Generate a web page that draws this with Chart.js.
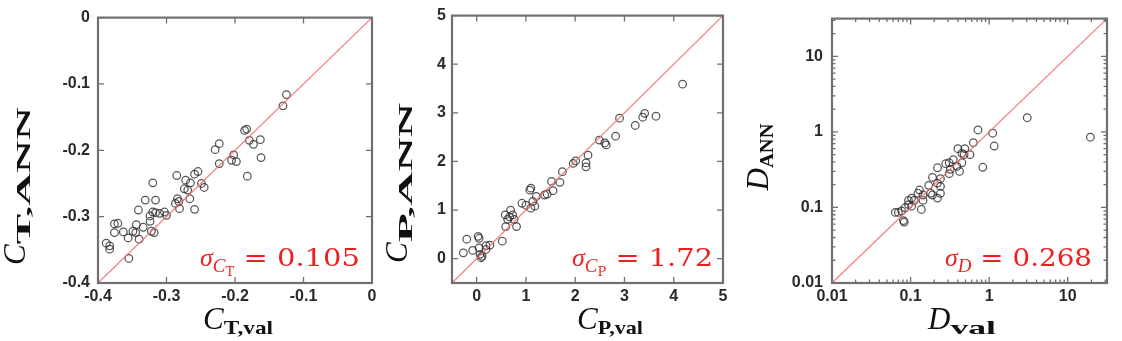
<!DOCTYPE html>
<html>
<head>
<meta charset="utf-8">
<script src="https://cdn.jsdelivr.net/npm/chart.js@4.4.1/dist/chart.umd.min.js"></script>
<style>
  html, body { margin: 0; padding: 0; background: #fff; }
  #wrap { position: relative; width: 1122px; height: 341px; overflow: hidden; }
  canvas { position: absolute; top: 0; }
</style>
</head>
<body>
<div id="wrap">
  <canvas id="ct" width="390" height="341" style="left:0px"></canvas>
  <canvas id="cp" width="370" height="341" style="left:380px"></canvas>
  <canvas id="dd" width="382" height="341" style="left:740px"></canvas>
</div>
<script>
// thrust coefficient: validation vs ANN
const ctVal = [-0.125, -0.130, -0.186, -0.183, -0.163, -0.179, -0.173, -0.223, -0.229, -0.202,
  -0.205, -0.198, -0.162, -0.223, -0.182, -0.285, -0.254, -0.259, -0.272, -0.265,
  -0.249, -0.245, -0.320, -0.274, -0.269, -0.266, -0.284, -0.287, -0.282, -0.281,
  -0.259, -0.331, -0.316, -0.341, -0.320, -0.316, -0.303, -0.300, -0.310, -0.324,
  -0.324, -0.344, -0.376, -0.371, -0.334, -0.376, -0.363, -0.349, -0.345, -0.322,
  -0.318, -0.356, -0.340, -0.388, -0.383, -0.383, -0.355];
const ctAnn = [-0.116, -0.133, -0.170, -0.168, -0.184, -0.185, -0.191, -0.190, -0.199, -0.207,
  -0.215, -0.217, -0.211, -0.220, -0.239, -0.238, -0.232, -0.236, -0.245, -0.249,
  -0.250, -0.256, -0.249, -0.258, -0.260, -0.273, -0.273, -0.280, -0.277, -0.288,
  -0.289, -0.275, -0.275, -0.290, -0.293, -0.294, -0.293, -0.298, -0.295, -0.299,
  -0.307, -0.312, -0.311, -0.310, -0.316, -0.324, -0.323, -0.322, -0.324, -0.322,
  -0.324, -0.332, -0.334, -0.340, -0.344, -0.349, -0.363];

// power coefficient
const cpVal = [4.18, 3.64, 3.41, 3.37, 3.22, 2.90, 2.82, 2.49, 2.60, 2.63,
  2.26, 2.22, 2.22, 2.01, 1.96, 1.74, 1.69, 1.52, 1.55, 1.38,
  1.43, 1.21, 1.08, 1.10, 1.14, 1.18, 1.00, 1.10, 0.92, 0.69,
  0.58, 0.67, 0.73, 0.63, 0.76, 0.59, 0.81, 0.52, 0.19, 0.27,
  0.03, 0.05, -0.20, -0.08, -0.27, 0.05, 0.07, 0.11, 0.09, 0.19];
const cpAnn = [3.59, 2.93, 2.99, 2.91, 2.74, 2.89, 2.52, 2.44, 2.38, 2.34,
  2.13, 1.97, 1.89, 2.01, 1.96, 1.79, 1.57, 1.59, 1.40, 1.31,
  1.33, 1.28, 1.41, 1.45, 1.18, 1.08, 1.10, 1.04, 1.14, 1.00,
  0.90, 0.86, 0.90, 0.81, 0.81, 0.66, 0.66, 0.36, 0.27, 0.28,
  0.46, 0.42, 0.40, 0.17, 0.12, 0.22, 0.09, 0.05, 0.02, 0.19];

// D (log scale)
const dVal = [0.72, 1.11, 1.16, 0.83, 0.63, 0.40, 0.49, 0.45, 0.48, 0.57,
  0.35, 0.31, 0.39, 0.45, 0.32, 0.42, 0.28, 0.22, 0.31, 0.24,
  0.19, 0.22, 0.24, 0.17, 0.18, 0.22, 0.24, 0.19, 0.13, 0.144,
  0.124, 0.103, 0.094, 0.111, 0.144, 0.094, 0.103, 0.085, 0.137, 0.070,
  0.077, 0.064, 0.081, 0.083, 3.05, 19.4];
const dAnn = [1.06, 0.96, 0.65, 0.34, 0.72, 0.60, 0.60, 0.52, 0.50, 0.50,
  0.43, 0.39, 0.35, 0.39, 0.32, 0.30, 0.38, 0.335, 0.28, 0.24,
  0.25, 0.21, 0.19, 0.196, 0.154, 0.133, 0.154, 0.146, 0.17, 0.146,
  0.154, 0.133, 0.124, 0.124, 0.124, 0.109, 0.104, 0.099, 0.094, 0.086,
  0.090, 0.086, 0.067, 0.064, 1.54, 0.85];

const ctTicks = [-0.4, -0.3, -0.2, -0.1, 0];
const ctTickLabels = ['-0.4', '-0.3', '-0.2', '-0.1', '0'];
const cpTicks = [0, 1, 2, 3, 4, 5];
const cpTickLabels = ['0', '1', '2', '3', '4', '5'];
const dTicks = [0.01, 0.1, 1, 10];
const dTickLabels = ['0.01', '0.1', '1', '10'];

const ctRange = [-0.4, 0];
const cpRange = [-0.5, 5];
const dRange = [0.01, 31.6];

const RED = '#f01e1e';
const TICK_FONT = { family: '"Liberation Sans", Arial, sans-serif', size: 16, weight: 'bold' };

const toPoints = (xs, ys) => xs.map((x, i) => ({ x: x, y: ys[i] }));

// draw a run of text pieces; only pieces marked stretch get squeezed/widened to hit targetW
const drawParts = (ctx, parts, x, y, align, targetW) => {
    let fixedW = 0, strW = 0;
    parts.forEach(p => {
        ctx.font = p.f;
        const w = ctx.measureText(p.t).width;
        if (p.stretch) strW += w; else fixedW += w;
    });
    const sx = targetW && strW ? (targetW - fixedW) / strW : 1;
    const total = fixedW + strW * sx;
    let cx = x + (align === 'right' ? -total : align === 'center' ? -total / 2 : 0);
    parts.forEach(p => {
        ctx.font = p.f;
        const w = ctx.measureText(p.t).width;
        const s = p.stretch ? sx : 1;
        ctx.save();
        ctx.translate(cx, y + (p.dy || 0));
        ctx.scale(s, 1);
        ctx.fillText(p.t, 0, 0);
        ctx.restore();
        cx += w * s;
    });
};

const serif = '"DejaVu Serif", "Liberation Serif", serif';
const serif2 = '"Liberation Serif", serif';

const framePlugin = {
    id: 'frame',
    afterDatasetsDraw(chart, args, opts) {
        const ctx = chart.ctx;
        const a = chart.chartArea;
        const xs = chart.scales.x, ys = chart.scales.y;
        ctx.save();
        ctx.strokeStyle = '#6e6e6e';
        ctx.lineWidth = 1.3;
        ctx.beginPath();
        const major = 6, minor = 3.5;
        const tickX = (v, len) => {
            const px = xs.getPixelForValue(v);
            ctx.moveTo(px, a.bottom); ctx.lineTo(px, a.bottom - len);
            ctx.moveTo(px, a.top); ctx.lineTo(px, a.top + len);
        };
        const tickY = (v, len) => {
            const py = ys.getPixelForValue(v);
            ctx.moveTo(a.left, py); ctx.lineTo(a.left + len, py);
            ctx.moveTo(a.right, py); ctx.lineTo(a.right - len, py);
        };
        opts.ticks.forEach(v => { tickX(v, major); tickY(v, major); });
        if (opts.log) {
            opts.ticks.forEach(v => {
                for (let k = 2; k <= 9; k++) {
                    const m = v * k;
                    if (m <= opts.range[1]) { tickX(m, minor); tickY(m, minor); }
                }
            });
        }
        ctx.stroke();
        ctx.lineWidth = 2.2;
        ctx.strokeStyle = '#707070';
        ctx.strokeRect(a.left, a.top, a.right - a.left, a.bottom - a.top);
        ctx.restore();
    },
    afterDraw(chart, args, opts) {
        const ctx = chart.ctx;
        ctx.save();
        ctx.textBaseline = 'alphabetic';
        ctx.fillStyle = '#111';
        ctx.save();
        ctx.translate(opts.yTitle.x, opts.yTitle.y);
        ctx.rotate(-Math.PI / 2);
        drawParts(ctx, opts.yTitle.parts, 0, 0, 'center', opts.yTitle.len);
        ctx.restore();
        drawParts(ctx, opts.xTitle.parts, opts.xTitle.x, opts.xTitle.y, 'center', opts.xTitle.len);
        ctx.fillStyle = RED;
        drawParts(ctx, opts.sigma.parts, opts.sigma.x, opts.sigma.y, 'right', opts.sigma.len);
        ctx.restore();
    }
};

const italicC = (t) => ({ t: t, f: 'italic 31px ' + serif2 });
const sub = (t) => ({ t: t, f: 'bold 19px ' + serif2, dy: 5, stretch: true });
const sigmaParts = (s1, s2, value) => {
    const parts = [
        { t: 'σ', f: 'italic 26px ' + serif2 },
        { t: s1, f: 'italic 19px ' + serif2, dy: 6 }
    ];
    if (s2) parts.push({ t: s2, f: '13px ' + serif, dy: 10 });
    parts.push({ t: ' = ' + value, f: '25px ' + serif, stretch: true });
    return parts;
};

const makePanel = (id, cfg) => {
    const xType = cfg.log ? 'logarithmic' : 'linear';
    return new Chart(document.getElementById(id).getContext('2d'), {
        type: 'scatter',
        data: {
            datasets: [
                {
                    type: 'line',
                    data: toPoints(cfg.range, cfg.range),
                    borderColor: 'rgba(238, 110, 110, 0.85)',
                    borderWidth: 1.3,
                    pointRadius: 0,
                    fill: false
                },
                {
                    data: toPoints(cfg.xs, cfg.ys),
                    pointRadius: 3.8,
                    pointHoverRadius: 3.8,
                    backgroundColor: 'rgba(0,0,0,0)',
                    borderColor: 'rgba(45, 45, 45, 0.8)',
                    borderWidth: 1.25
                }
            ]
        },
        options: {
            responsive: false,
            animation: false,
            devicePixelRatio: 1,
            layout: { padding: { left: 0, right: cfg.padR, top: 10, bottom: 0 } },
            plugins: {
                legend: { display: false },
                tooltip: { enabled: false },
                frame: {
                    ticks: cfg.ticks, log: cfg.log, range: cfg.range,
                    yTitle: cfg.yTitle, xTitle: cfg.xTitle, sigma: cfg.sigma
                }
            },
            scales: {
                x: {
                    type: xType,
                    min: cfg.range[0], max: cfg.range[1],
                    grid: { display: false, drawTicks: false },
                    border: { display: false },
                    afterBuildTicks: s => { s.ticks = cfg.ticks.map(v => ({ value: v })); },
                    afterFit: s => { s.height = 58; },
                    ticks: {
                        autoSkip: false, maxRotation: 0, padding: 4, color: '#2a2a2a', font: TICK_FONT,
                        callback: (v, i) => cfg.labels[i]
                    }
                },
                y: {
                    type: xType,
                    min: cfg.range[0], max: cfg.range[1],
                    grid: { display: false, drawTicks: false },
                    border: { display: false },
                    afterBuildTicks: s => { s.ticks = cfg.ticks.map(v => ({ value: v })); },
                    afterFit: s => { s.width = cfg.padL; },
                    ticks: {
                        autoSkip: false, padding: cfg.yPad, color: '#2a2a2a', font: TICK_FONT,
                        callback: (v, i) => cfg.labels[i]
                    }
                }
            }
        },
        plugins: [framePlugin]
    });
};

makePanel('ct', {
    xs: ctVal, ys: ctAnn, range: ctRange, ticks: ctTicks, labels: ctTickLabels,
    padL: 98, padR: 18, yPad: 8, log: false,
    yTitle: { x: 25, y: 186, len: 158, parts: [italicC('C'), sub('T,ANN')] },
    xTitle: { x: 238, y: 329, len: 70, parts: [italicC('C'), sub('T,val')] },
    sigma: { x: 360, y: 266, len: 160, parts: sigmaParts('C', 'T', '0.105') }
});

makePanel('cp', {
    xs: cpVal, ys: cpAnn, range: cpRange, ticks: cpTicks, labels: cpTickLabels,
    padL: 72, padR: 27, yPad: 6, log: false,
    yTitle: { x: 27, y: 183, len: 160, parts: [italicC('C'), sub('P,ANN')] },
    xTitle: { x: 230, y: 329, len: 66, parts: [italicC('C'), sub('P,val')] },
    sigma: { x: 333, y: 266, len: 141, parts: sigmaParts('C', 'P', '1.72') }
});

makePanel('dd', {
    xs: dVal, ys: dAnn, range: dRange, ticks: dTicks, labels: dTickLabels,
    padL: 92, padR: 15, yPad: 9, log: true,
    yTitle: { x: 28, y: 157, len: 67, parts: [italicC('D'), sub('ANN')] },
    xTitle: { x: 222, y: 329, len: 68, parts: [italicC('D'), sub('val')] },
    sigma: { x: 352, y: 266, len: 147, parts: sigmaParts('D', null, '0.268') }
});
</script>
</body>
</html>
